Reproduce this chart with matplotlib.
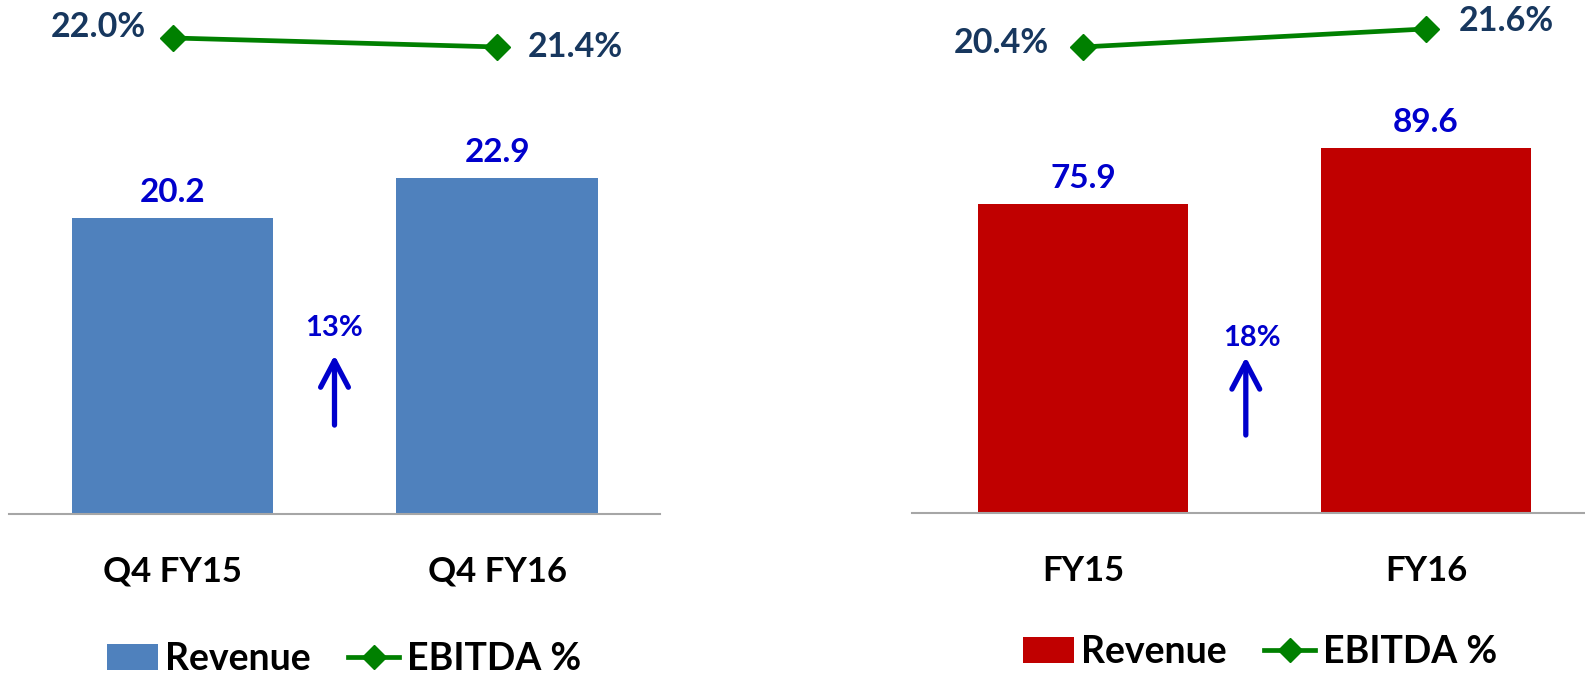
import numpy as np
import matplotlib
matplotlib.use('Agg')
import matplotlib.pyplot as plt
from matplotlib.patches import Patch
from matplotlib.lines import Line2D

# ---- data ----
left_categories = ['Q4 FY15', 'Q4 FY16']
left_revenue = [20.2, 22.9]
left_ebitda = [22.0, 21.4]

right_categories = ['FY15', 'FY16']
right_revenue = [75.9, 89.6]
right_ebitda = [20.4, 21.6]

legend_labels = ['Revenue', 'EBITDA %']

# ---- style ----
plt.rcParams['font.family'] = ['Lato', 'DejaVu Sans']
plt.rcParams['font.weight'] = 'bold'

BLUE = '#4F81BD'
RED = '#C00000'
GREEN = '#008000'
VALUE_C = '#0000CC'
PCT_C = '#17375E'
AXIS_C = '#A6A6A6'

W, H = 1585, 678
fig = plt.figure(figsize=(W / 100, H / 100), dpi=100)
PT = 0.72  # points per pixel at 100 dpi


def px_axes(x0, x1, ytop, ybase):
    return fig.add_axes([x0 / W, (H - ybase) / H, (x1 - x0) / W, (ybase - ytop) / H])


def panel(x0, x1, ybase, xlim, bar_top, line_lim, bar_w, cats, rev, ebitda, color,
          pct_style, growth_xy, arrow_x, arrow_y, legend_center):
    ax = px_axes(x0, x1, 0, ybase)
    ax.set_xlim(*xlim)
    ax.set_ylim(0, bar_top)
    x = np.arange(len(cats))
    ax.bar(x, rev, width=bar_w, color=color, zorder=2)
    for xi, v in zip(x, rev):
        ax.annotate(f'{v:.1f}', (xi, v), xytext=(0, 16 * PT), textcoords='offset points',
                    ha='center', va='baseline', color=VALUE_C, fontsize=24, fontweight='bold')
    for s in ['top', 'left', 'right']:
        ax.spines[s].set_visible(False)
    ax.spines['bottom'].set_color(AXIS_C)
    ax.spines['bottom'].set_linewidth(1.5)
    ax.set_yticks([])
    ax.set_xticks(x)
    ax.set_xticklabels(cats, fontsize=25, fontweight='bold', color='black')
    plt.setp(ax.get_xticklabels(), va='baseline')
    ax.tick_params(axis='x', length=0, pad=68 * PT)

    ax2 = ax.twinx()
    ax2.set_ylim(*line_lim)
    ax2.plot(x, ebitda, color=GREEN, lw=3.4, marker='D', ms=13.5, zorder=3)
    ax2.axis('off')
    for xi, v, (ha, dx, dy) in zip(x, ebitda, pct_style):
        ax2.annotate(f'{v:.1f}%', (xi, v), xytext=(dx * PT, dy * PT), textcoords='offset points',
                     ha=ha, va='center', color=PCT_C, fontsize=24.5, fontweight='bold')

    growth = round((rev[1] / rev[0] - 1) * 100)
    ax.text(growth_xy[0], growth_xy[1], f'{growth}%', transform=ax.transAxes,
            ha='center', va='center', color=VALUE_C, fontsize=21, fontweight='bold')
    ax.annotate('', xy=(arrow_x, arrow_y[1]), xytext=(arrow_x, arrow_y[0]),
                xycoords='axes fraction', textcoords='axes fraction',
                arrowprops=dict(arrowstyle='->,head_length=0.95,head_width=0.5',
                                color=VALUE_C, lw=3.8, mutation_scale=20,
                                shrinkA=0, shrinkB=0))

    handles = [Patch(facecolor=color),
               Line2D([], [], color=GREEN, lw=3.4, marker='D', ms=12)]
    fig.legend(handles, legend_labels, loc='center',
               bbox_to_anchor=(legend_center[0] / W, 1 - legend_center[1] / H),
               ncol=2, frameon=False, fontsize=27, handlelength=1.35,
               handletextpad=0.2, columnspacing=1.0, borderaxespad=0, borderpad=0)
    return ax


panel(9, 660, 514, (-0.504, 1.502), 35.08, (-9.73, 24.53), 0.62,
      left_categories, left_revenue, left_ebitda, BLUE,
      [('right', -27, 11), ('left', 31, 0)],
      (0.5, 0.361), 0.5, (0.173, 0.309), (344, 659))

panel(912, 1585, 513, (-0.4985, 1.464), 126.0, (-10.67, 23.53), 0.612,
      right_categories, right_revenue, right_ebitda, RED,
      [('right', -34, 4), ('left', 33, 8)],
      (0.505, 0.341), 0.496, (0.152, 0.304), (1260, 652))

fig.savefig('out.png', dpi=100)
